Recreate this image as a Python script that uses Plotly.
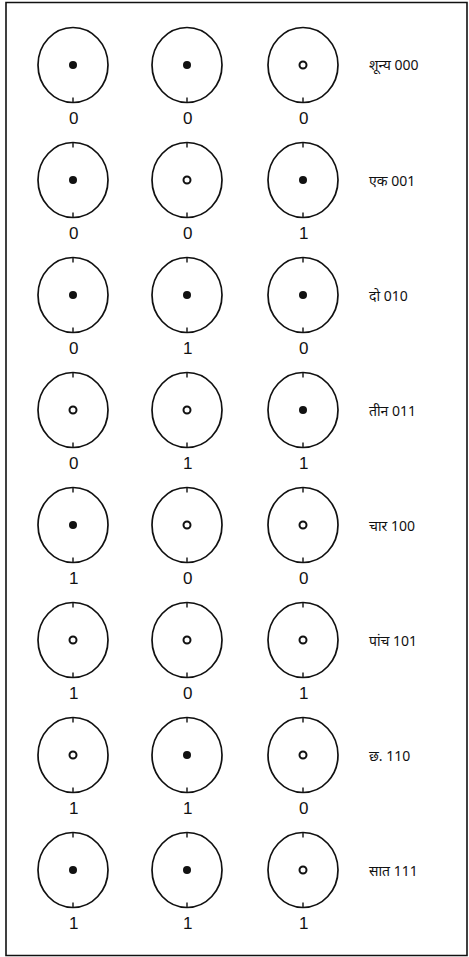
import plotly.graph_objects as go

# ---- data ----
row_names = ["शून्य", "एक", "दो", "तीन", "चार", "पांच", "छ.", "सात"]
row_codes = ["000", "001", "010", "011", "100", "101", "110", "111"]
# appearance of the centre mark of each core (f = solid dot, r = small ring)
core_marks = [
    ["f", "f", "r"],
    ["f", "r", "f"],
    ["f", "f", "f"],
    ["r", "r", "f"],
    ["f", "r", "r"],
    ["r", "r", "r"],
    ["r", "f", "r"],
    ["f", "f", "r"],
]

# ---- layout constants ----
W, H = 469, 957
col_x = [73, 187, 303]
row_y0, row_dy = 65, 115
rx, ry = 35, 37.5
label_x = 367
ink = "#111111"

fig = go.Figure()
shapes = []
annotations = []

fx, fy, rxs, rys = [], [], [], []
for i, (name, code) in enumerate(zip(row_names, row_codes)):
    cy = row_y0 + row_dy * i
    for j, cx in enumerate(col_x):
        shapes.append(dict(type="circle", xref="x", yref="y",
                           x0=cx - rx, x1=cx + rx, y0=cy - ry, y1=cy + ry,
                           line=dict(color=ink, width=1.7)))
        # small ticks at bottom and top of the core
        shapes.append(dict(type="line", xref="x", yref="y",
                           x0=cx, x1=cx, y0=cy + ry - 5, y1=cy + ry,
                           line=dict(color=ink, width=1.4)))
        if i > 0:
            shapes.append(dict(type="line", xref="x", yref="y",
                               x0=cx, x1=cx, y0=cy - ry, y1=cy - ry + 5,
                               line=dict(color=ink, width=1.4)))
        if core_marks[i][j] == "f":
            fx.append(cx); fy.append(cy)
        else:
            rxs.append(cx); rys.append(cy)
        annotations.append(dict(x=cx, y=cy + 53, xref="x", yref="y",
                                text=code[j], showarrow=False,
                                font=dict(family="Liberation Sans Narrow, Liberation Sans, Arial, sans-serif",
                                          size=17, color=ink)))
    annotations.append(dict(x=label_x, y=cy, xref="x", yref="y",
                            text=f"{name} {code}", showarrow=False,
                            xanchor="left", yanchor="middle",
                            font=dict(family="Noto Sans, Noto Sans Devanagari, Lohit Devanagari, sans-serif",
                                      size=14, color=ink)))

fig.add_trace(go.Scatter(x=fx, y=fy, mode="markers", hoverinfo="skip",
                         marker=dict(symbol="circle", size=8, color=ink)))
fig.add_trace(go.Scatter(x=rxs, y=rys, mode="markers", hoverinfo="skip",
                         marker=dict(symbol="circle-open", size=7, color=ink,
                                     line=dict(width=2, color=ink))))

# frame
shapes.append(dict(type="rect", xref="x", yref="y", x0=6, x1=467, y0=2.5, y1=955.5,
                   line=dict(color=ink, width=1.6)))

fig.update_layout(
    width=W, height=H, margin=dict(l=0, r=0, t=0, b=0),
    paper_bgcolor="white", plot_bgcolor="white", showlegend=False,
    shapes=shapes, annotations=annotations,
    xaxis=dict(range=[0, W], visible=False, fixedrange=True),
    yaxis=dict(range=[H, 0], visible=False, fixedrange=True),
)
fig.write_html("out.html", config={"displayModeBar": False},
               post_script="document.body.style.margin='0';document.body.style.overflow='hidden';")
